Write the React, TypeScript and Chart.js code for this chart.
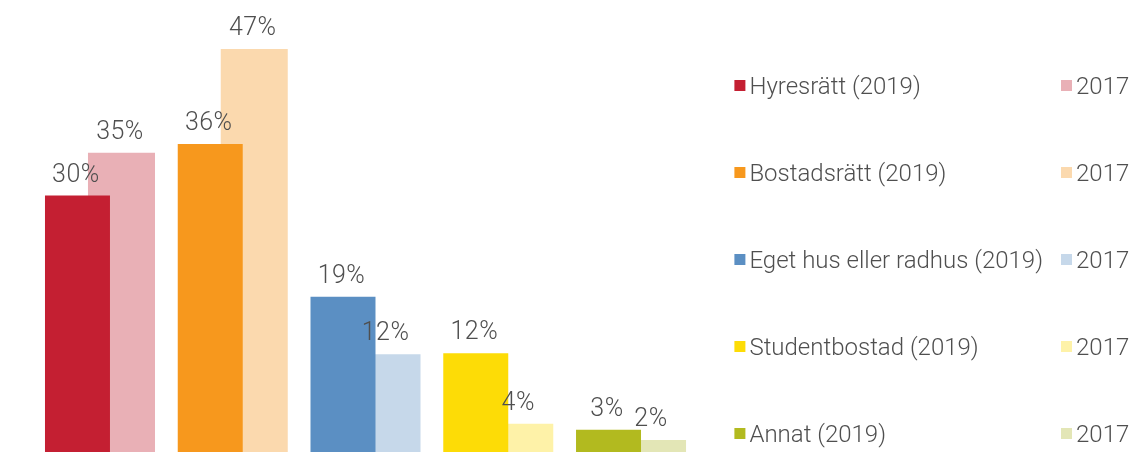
import React, { useEffect, useRef } from 'react';
import { Chart, registerables } from 'chart.js';

Chart.register(...registerables);

const categories = ['Hyresrätt', 'Bostadsrätt', 'Eget hus eller radhus', 'Studentbostad', 'Annat'];
const legend2019 = ['Hyresrätt (2019)', 'Bostadsrätt (2019)', 'Eget hus eller radhus (2019)', 'Studentbostad (2019)', 'Annat (2019)'];
const legend2017 = ['2017', '2017', '2017', '2017', '2017'];
const values2019 = [29.9, 35.9, 18.1, 11.5, 2.6];
const values2017 = [34.9, 47.0, 11.4, 3.3, 1.4];
const labels2019 = ['30%', '36%', '19%', '12%', '3%'];
const labels2017 = ['35%', '47%', '12%', '4%', '2%'];
const colors2019 = ['#C41F32', '#F7981D', '#5B8FC3', '#FDDC06', '#B2BA1F'];
const colors2017 = ['#E9B0B6', '#FBD9AE', '#C6D8EA', '#FEF2A8', '#E3E6B6'];

const FONT = '300 24px Roboto, "Liberation Sans", sans-serif';
const LABEL_FONT = '300 25px Roboto, "Liberation Sans", sans-serif';
const TEXT = '#4f4f4f';

const valueLabelPlugin = {
  id: 'valueLabels',
  afterDatasetsDraw(chart: any) {
    const ctx = chart.ctx;
    ctx.save();
    ctx.font = LABEL_FONT;
    (ctx as any).letterSpacing = '0.5px';
    ctx.fillStyle = TEXT;
    ctx.textAlign = 'center';
    ctx.textBaseline = 'alphabetic';
    const all = [labels2019, labels2017];
    chart.data.datasets.forEach((_ds: any, di: number) => {
      const meta = chart.getDatasetMeta(di);
      meta.data.forEach((el: any, i: number) => {
        ctx.fillText(all[di][i], el.x - 1.5, el.y - 14);
      });
    });
    ctx.restore();
  },
};

const legendPlugin = {
  id: 'customLegend',
  afterDraw(chart: any) {
    const ctx = chart.ctx;
    const area = chart.chartArea;
    const col1 = area.right + 37;
    const col2 = 1061;
    const top = 86;
    const step = 87;
    ctx.save();
    ctx.font = FONT;
    ctx.fillStyle = TEXT;
    ctx.textAlign = 'left';
    ctx.textBaseline = 'middle';
    for (let i = 0; i < categories.length; i++) {
      const y = top + step * i;
      ctx.fillStyle = colors2019[i];
      ctx.fillRect(col1, y - 6, 11, 11);
      ctx.fillStyle = TEXT;
      ctx.fillText(legend2019[i], col1 + 15, y + 2);
      ctx.fillStyle = colors2017[i];
      ctx.fillRect(col2, y - 6, 11, 11);
      ctx.fillStyle = TEXT;
      ctx.fillText(legend2017[i], col2 + 15, y + 2);
    }
    ctx.restore();
  },
};

export default function App() {
  const ref = useRef<HTMLCanvasElement>(null);
  useEffect(() => {
    if (!ref.current) return;
    const chart = new Chart(ref.current, {
      type: 'bar',
      data: {
        labels: categories,
        datasets: [
          {
            label: '2019',
            data: values2019,
            backgroundColor: colors2019,
            categoryPercentage: 0.678,
            barPercentage: 1.444,
          },
          {
            label: '2017',
            data: values2017,
            backgroundColor: colors2017,
            categoryPercentage: 0.648,
            barPercentage: 1.558,
          },
        ],
      },
      options: {
        animation: false,
        responsive: false,
        layout: { padding: { left: 33.6, right: 433.6, top: 0, bottom: 0 } },
        scales: {
          x: { display: false, offset: true },
          y: { display: false, min: 0, max: 52.7 },
        },
        plugins: {
          legend: { display: false },
          tooltip: { enabled: false },
        },
      },
      plugins: [valueLabelPlugin, legendPlugin],
    });
    return () => chart.destroy();
  }, []);
  return (
    <div style={{ position: 'fixed', left: 0, top: 0, width: 1131, height: 452, background: '#fff' }}>
      <canvas ref={ref} width={1131} height={452} />
    </div>
  );
}
